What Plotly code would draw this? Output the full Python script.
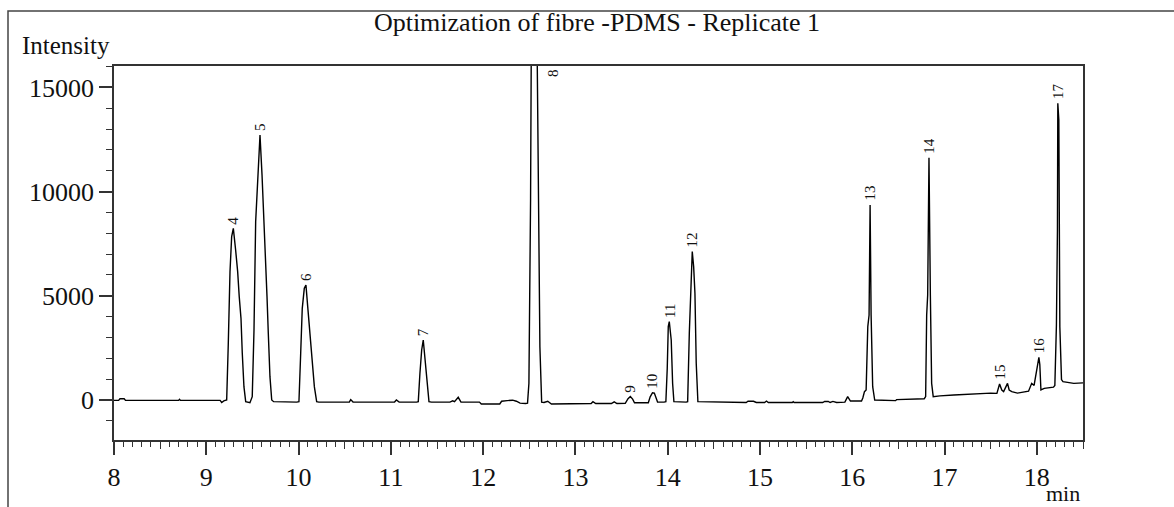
import plotly.graph_objects as go

# Chromatogram trace: retention time (min) and detector intensity
time_min = [
    8.00, 8.05, 8.065, 8.11, 8.125, 8.70, 8.71, 8.72, 9.15, 9.167, 9.19, 9.205,
    # peaks 4 and 5
    9.221, 9.238, 9.257, 9.275, 9.293, 9.318, 9.340, 9.357, 9.376, 9.390, 9.408, 9.427, 9.473,
    9.498, 9.517, 9.535, 9.557, 9.582, 9.604, 9.618, 9.640, 9.658, 9.672, 9.690, 9.709, 9.73,
    # peak 6
    9.98, 10.004, 10.023, 10.040, 10.062, 10.080, 10.099, 10.124, 10.149, 10.171, 10.196, 10.22,
    10.55, 10.565, 10.59, 11.04, 11.06, 11.09, 11.28,
    # peak 7
    11.297, 11.315, 11.334, 11.351, 11.37, 11.394, 11.413, 11.44,
    11.64, 11.67, 11.69, 11.73, 11.76, 11.96, 11.98, 12.18, 12.20, 12.26, 12.32, 12.36, 12.40, 12.46,
    # peak 8
    12.481, 12.496, 12.514, 12.529, 12.55, 12.572, 12.594, 12.615, 12.634,
    12.66, 12.70, 12.74, 13.17, 13.19, 13.22, 13.39, 13.42, 13.45,
    # peaks 9 and 10
    13.54, 13.57, 13.595, 13.62, 13.64, 13.79, 13.81, 13.835, 13.855, 13.87, 13.89, 13.96,
    # peak 11
    13.98, 13.995, 14.006, 14.017, 14.027, 14.038, 14.053, 14.067, 14.20,
    # peak 12
    14.216, 14.234, 14.251, 14.266, 14.281, 14.295, 14.309, 14.327,
    14.85, 14.87, 14.93, 14.96, 15.05, 15.07, 15.09, 15.35, 15.36, 15.37,
    15.68, 15.70, 15.74, 15.76, 15.79, 15.83, 15.92, 15.95, 15.98, 16.10,
    # peak 13
    16.114, 16.132, 16.15, 16.168, 16.182, 16.193, 16.204, 16.221, 16.243, 16.47, 16.48, 16.78,
    # peak 14
    16.795, 16.806, 16.817, 16.831, 16.846, 16.860, 16.877, 16.95, 17.10, 17.25, 17.40, 17.50,
    # peak 15
    17.567, 17.596, 17.62, 17.64, 17.682, 17.70, 17.728, 17.79, 17.91, 17.944, 17.97,
    # peak 16
    18.008, 18.022, 18.032, 18.044, 18.08, 18.18,
    # peak 17
    18.195, 18.212, 18.223, 18.227, 18.238, 18.249, 18.267, 18.283, 18.40, 18.50,
]

intensity = [
    -20, -20, 60, 60, -20, -20, 30, -20, -20, -120, -40, -20,
    0, 2640, 6160, 7840, 8240, 7200, 6160, 4960, 3920, 2240, 640, -80, -130,
    160, 3360, 8560, 10880, 12720, 10800, 9440, 7360, 4960, 3200, 1120, 0, -80,
    -100, -80, 2240, 4400, 5360, 5520, 4480, 3200, 1760, 640, -80, -100,
    -100, 20, -100, -100, 0, -100, -100,
    -80, 1280, 2400, 2880, 1920, 800, -80, -100,
    -100, -40, -80, 130, -100, -100, -190, -190, -60, -30, -10, -60, -150, -170,
    -150, 800, 9670, 24000, 27000, 23000, 12050, 2540, -100,
    -120, -60, -190, -170, -80, -170, -170, -90, -170,
    -160, 60, 170, 40, -130, -130, 150, 350, 330, 100, -100, -100,
    -80, 1520, 3520, 3760, 3360, 2880, 800, -80, -100,
    -80, 3200, 5760, 7120, 6400, 5120, 1760, -80,
    -120, -60, -60, -120, -120, -50, -120, -120, -80, -120,
    -120, -70, -70, -120, -70, -120, -100, 160, -50, -50,
    100, 400, 480, 3520, 4080, 9360, 4080, 640, 0, -30, 20, 60,
    160, 4080, 5040, 11630, 5040, 800, 160, 200, 240, 280, 330, 330,
    320, 770, 480, 400, 800, 480, 400, 330, 420, 800, 700,
    1790, 2050, 1700, 480, 560, 620,
    700, 3600, 8130, 14240, 13450, 3520, 980, 880, 800, 820,
]

# Integrated peak numbers with their apex positions
peak_no = [4, 5, 6, 7, 8, 9, 10, 11, 12, 13, 14, 15, 16, 17]
peak_rt = [9.293, 9.582, 10.080, 11.351, 12.55, 13.595, 13.835, 14.017, 14.266,
           16.193, 16.831, 17.596, 18.022, 18.227]
peak_top = [8240, 12720, 5520, 2880, 27000, 170, 350, 3760, 7120,
            9360, 11630, 800, 2050, 14240]

x_range = [8.0, 18.5]
y_range = [-1920, 16030]

W, H = 1174, 507
ML, MR, MT, MB = 114, 91, 66, 67
PW, PH = W - ML - MR, H - MT - MB

FONT = "Liberation Serif, Times New Roman, serif"
AX = "#333333"
INK = "#111111"


def px_x(px):
    return (px - ML) / PW


def px_y(py):
    return (H - MB - py) / PH


fig = go.Figure()
fig.add_trace(go.Scatter(
    x=time_min, y=intensity, mode="lines",
    line=dict(color="#000000", width=1.4), hoverinfo="skip", showlegend=False,
))

annotations = []
for n, rt, top in zip(peak_no, peak_rt, peak_top):
    if top > y_range[1]:
        annotations.append(dict(
            x=rt, y=1, xref="x", yref="paper", text=str(n), showarrow=False,
            textangle=-90, xanchor="center", yanchor="top", xshift=19, yshift=-1,
            font=dict(family=FONT, size=15, color=INK),
        ))
    else:
        annotations.append(dict(
            x=rt, y=top, xref="x", yref="y", text=str(n), showarrow=False,
            textangle=-90, xanchor="center", yanchor="bottom", yshift=2,
            font=dict(family=FONT, size=15, color=INK),
        ))

annotations += [
    dict(text="Intensity", x=px_x(66), y=px_y(45), xref="paper", yref="paper",
         showarrow=False, xanchor="center", yanchor="middle",
         font=dict(family=FONT, size=25, color=INK)),
    dict(text="min", x=px_x(1063), y=px_y(494), xref="paper", yref="paper",
         showarrow=False, xanchor="center", yanchor="middle",
         font=dict(family=FONT, size=22, color=INK)),
]

shapes = [
    # outer frame of the report panel
    dict(type="rect", xref="paper", yref="paper",
         x0=px_x(8), y0=px_y(H + 20), x1=px_x(W + 20), y1=px_y(11),
         line=dict(color="#444444", width=1.5), fillcolor="rgba(0,0,0,0)", layer="below"),
]

fig.update_layout(
    width=W, height=H,
    margin=dict(l=ML, r=MR, t=MT, b=MB),
    paper_bgcolor="white", plot_bgcolor="white",
    title=dict(text="Optimization of fibre -PDMS - Replicate 1",
               x=597 / W, xanchor="center", y=1 - 22 / H, yanchor="middle",
               yref="container", font=dict(family=FONT, size=26, color=INK)),
    annotations=annotations,
    shapes=shapes,
    xaxis=dict(
        range=x_range, dtick=1, tick0=8, showgrid=False, zeroline=False,
        showline=True, linecolor=AX, linewidth=1.5, mirror=True,
        ticks="outside", ticklen=13, tickwidth=1.5, tickcolor=AX,
        minor=dict(dtick=0.1, ticks="outside", ticklen=5, tickwidth=1.2, tickcolor=AX),
        tickfont=dict(family=FONT, size=26, color=INK),
    ),
    # half-minute ticks drawn a little longer
    xaxis2=dict(
        range=x_range, overlaying="x", anchor="y", side="bottom",
        tickvals=[v + 0.5 for v in range(8, 19)], ticks="outside", ticklen=8,
        tickwidth=1.2, tickcolor=AX, showticklabels=False, showgrid=False,
        zeroline=False, showline=False,
    ),
    yaxis=dict(
        range=y_range, dtick=5000, tick0=0, tickformat="d", showgrid=False, zeroline=False,
        showline=True, linecolor=AX, linewidth=1.5, mirror=True,
        ticks="outside", ticklen=13, tickwidth=1.5, tickcolor=AX,
        minor=dict(dtick=1000, ticks="outside", ticklen=6, tickwidth=1.2, tickcolor=AX),
        tickfont=dict(family=FONT, size=26, color=INK),
    ),
)

# invisible companion trace so the half-minute tick axis is rendered
fig.add_trace(go.Scatter(x=[x_range[0]], y=[0], xaxis="x2", mode="markers",
                         marker=dict(opacity=0), hoverinfo="skip", showlegend=False))

fig.write_html("out.html")
